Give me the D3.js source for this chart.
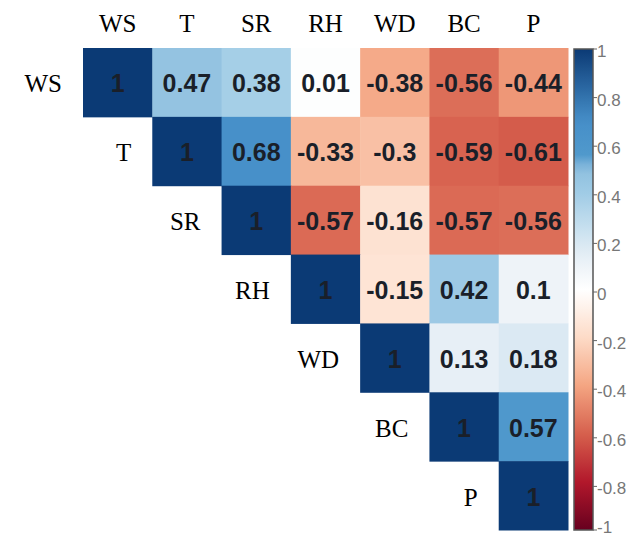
<!DOCTYPE html>
<html>
<head>
<meta charset="utf-8">
<script src="https://cdn.jsdelivr.net/npm/d3@7"></script>
<style>
  html, body { margin: 0; padding: 0; background: #fff; }
  svg { display: block; }
</style>
</head>
<body>
<svg id="chart" width="629" height="539"></svg>
<script>
// Variables, in matrix order
const vars = ["WS", "T", "SR", "RH", "WD", "BC", "P"];

// Upper-triangle correlation coefficients, one array per row (starting at the diagonal)
const rowWS = [1, 0.47, 0.38, 0.01, -0.38, -0.56, -0.44];
const rowT  = [1, 0.68, -0.33, -0.3, -0.59, -0.61];
const rowSR = [1, -0.57, -0.16, -0.57, -0.56];
const rowRH = [1, -0.15, 0.42, 0.1];
const rowWD = [1, 0.13, 0.18];
const rowBC = [1, 0.57];
const rowP  = [1];

// Colour-bar tick values and labels
const legendTicks  = [1, 0.8, 0.6, 0.4, 0.2, 0, -0.2, -0.4, -0.6, -0.8, -1];
const legendLabels = ["1", "0.8", "0.6", "0.4", "0.2", "0", "-0.2", "-0.4", "-0.6", "-0.8", "-1"];

// Diverging red-white-blue palette (anchor values and colours)
const paletteDomain = [-1, -0.8, -0.6, -0.4, -0.2, 0, 0.1, 0.2, 0.4, 0.5, 0.56, 0.7, 1];
const paletteColors = ["#67001F", "#B2182B", "#D6604D", "#F4A582", "#FDDBC7", "#FFFFFF",
                       "#EEF3F8", "#D6E7F2", "#A0CCE6", "#8FBFDF", "#5099CC", "#468FC9", "#0B3A75"];

const rows = [rowWS, rowT, rowSR, rowRH, rowWD, rowBC, rowP];
const cells = [];
rows.forEach((r, i) => r.forEach((v, k) => cells.push({ row: vars[i], col: vars[i + k], value: v })));

const svg = d3.select("#chart");

const x = d3.scaleBand().domain(vars).range([83, 568]);
const y = d3.scaleBand().domain(vars).range([48, 530]);

const color = d3.scaleLinear()
  .domain(paletteDomain)
  .range(paletteColors)
  .interpolate(d3.interpolateRgb);

// Cells
svg.append("g").selectAll("rect")
  .data(cells)
  .join("rect")
  .attr("x", d => x(d.col))
  .attr("y", d => y(d.row))
  .attr("width", x.bandwidth() + 0.5)
  .attr("height", y.bandwidth() + 0.5)
  .attr("fill", d => color(d.value));

// Coefficient labels
svg.append("g").selectAll("text")
  .data(cells)
  .join("text")
  .attr("x", d => x(d.col) + x.bandwidth() / 2)
  .attr("y", d => y(d.row) + y.bandwidth() / 2 + 10)
  .attr("text-anchor", "middle")
  .attr("font-family", "Liberation Sans, Arial, sans-serif")
  .attr("font-weight", "bold")
  .attr("font-size", 25)
  .attr("fill", "#1a1f29")
  .text(d => String(d.value));

// Column labels along the top
svg.append("g").selectAll("text")
  .data(vars)
  .join("text")
  .attr("x", d => x(d) + x.bandwidth() / 2)
  .attr("y", 32)
  .attr("text-anchor", "middle")
  .attr("font-family", "Liberation Serif, Times New Roman, serif")
  .attr("font-size", 25)
  .attr("fill", "#000")
  .text(d => d);

// Row labels beside the diagonal
svg.append("g").selectAll("text")
  .data(vars)
  .join("text")
  .attr("x", d => x(d) - 21)
  .attr("y", d => y(d) + y.bandwidth() / 2 + 10)
  .attr("text-anchor", "end")
  .attr("font-family", "Liberation Serif, Times New Roman, serif")
  .attr("font-size", 25)
  .attr("fill", "#000")
  .text(d => d);

// Colour bar
const barX = 574, barW = 19, barTop = 49, barBottom = 530;
const yLegend = d3.scaleLinear().domain([-1, 1]).range([535, 49]);

const defs = svg.append("defs");
const grad = defs.append("linearGradient")
  .attr("id", "corrGrad")
  .attr("x1", 0).attr("y1", 1).attr("x2", 0).attr("y2", 0);
d3.range(0, 1.0001, 0.02).forEach(t => {
  grad.append("stop")
    .attr("offset", t)
    .attr("stop-color", color(-1 + 2 * t));
});

svg.append("rect")
  .attr("x", barX)
  .attr("y", barTop)
  .attr("width", barW)
  .attr("height", barBottom - barTop)
  .attr("fill", "url(#corrGrad)")
  .attr("stroke", "#555")
  .attr("stroke-width", 1.5);

const legend = svg.append("g");
legend.selectAll("line")
  .data(legendTicks)
  .join("line")
  .attr("x1", barX + barW)
  .attr("x2", barX + barW + 4)
  .attr("y1", d => Math.min(yLegend(d), barBottom))
  .attr("y2", d => Math.min(yLegend(d), barBottom))
  .attr("stroke", "#666")
  .attr("stroke-width", 1);

legend.selectAll("text")
  .data(legendTicks)
  .join("text")
  .attr("x", barX + barW + 4)
  .attr("y", d => Math.min(yLegend(d) + 8, 533))
  .attr("font-family", "Liberation Sans, Arial, sans-serif")
  .attr("font-size", 17)
  .attr("fill", "#777")
  .text((d, i) => legendLabels[i]);
</script>
</body>
</html>
